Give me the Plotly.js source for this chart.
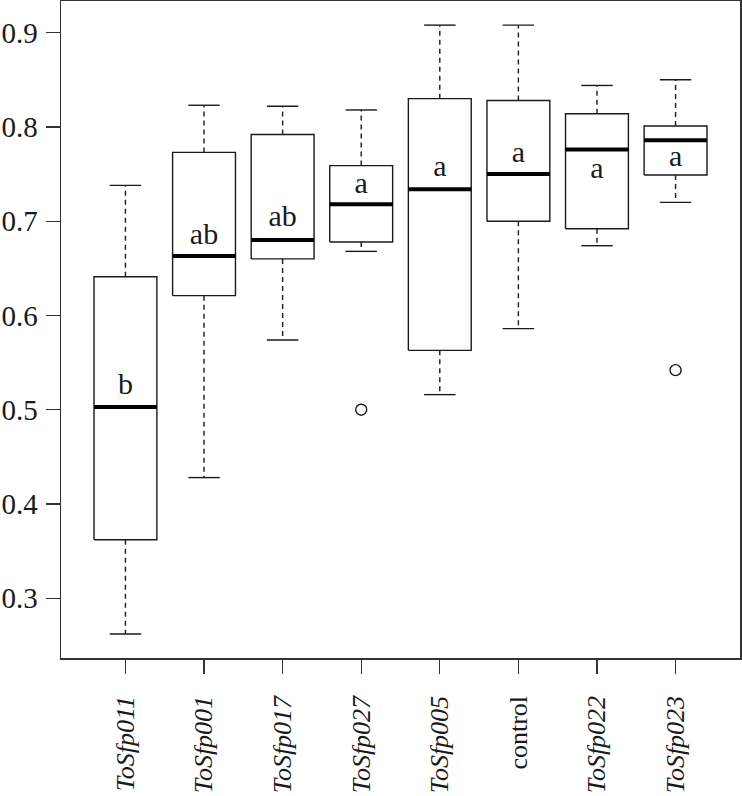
<!DOCTYPE html>
<html>
<head>
<meta charset="utf-8">
<script src="https://cdn.plot.ly/plotly-3.0.1.min.js"></script>
<style>html,body{margin:0;padding:0;background:#fff;}#chart{width:742px;height:796px;}</style>
</head>
<body>
<div id="chart"></div>
<script>
// ---- data ----
var groups   = ["ToSfp011","ToSfp001","ToSfp017","ToSfp027","ToSfp005","control","ToSfp022","ToSfp023"];
var italic   = [true, true, true, true, true, false, true, true];
var lowerW   = [0.262, 0.428, 0.574, 0.668, 0.516, 0.586, 0.674, 0.720];
var q1       = [0.362, 0.621, 0.660, 0.678, 0.563, 0.700, 0.692, 0.749];
var medians  = [0.503, 0.663, 0.680, 0.718, 0.734, 0.750, 0.776, 0.786];
var q3       = [0.641, 0.773, 0.792, 0.759, 0.830, 0.828, 0.814, 0.801];
var upperW   = [0.738, 0.823, 0.822, 0.818, 0.908, 0.908, 0.844, 0.850];
var outGroup = [4, 8];
var outVal   = [0.500, 0.542];
var letters  = ["b", "ab", "ab", "a", "a", "a", "a", "a"];
var letterY  = [0.525, 0.684, 0.703, 0.738, 0.756, 0.771, 0.754, 0.766];
var yTicks   = [0.3, 0.4, 0.5, 0.6, 0.7, 0.8, 0.9];

// ---- build traces ----
var HW = 0.4, CW = 0.2;
var pos = groups.map(function(_, i){ return i + 1; });
var bx = [], by = [], mx = [], my = [], wx = [], wy = [], cx = [], cy = [];
pos.forEach(function(p, i){
  bx.push(p-HW, p+HW, p+HW, p-HW, p-HW, null);
  by.push(q1[i], q1[i], q3[i], q3[i], q1[i], null);
  mx.push(p-HW, p+HW, null); my.push(medians[i], medians[i], null);
  wx.push(p, p, null, p, p, null);
  wy.push(q3[i], upperW[i], null, q1[i], lowerW[i], null);
  cx.push(p-CW, p+CW, null, p-CW, p+CW, null);
  cy.push(upperW[i], upperW[i], null, lowerW[i], lowerW[i], null);
});
var ink = '#1a1a1a';
var FONT = '"Liberation Serif", "Times New Roman", serif';
var traces = [
  {x: wx, y: wy, mode: 'lines', line: {color: ink, width: 1.4, dash: '5px,4px'}, hoverinfo: 'skip'},
  {x: cx, y: cy, mode: 'lines', line: {color: ink, width: 1.4}, hoverinfo: 'skip'},
  {x: bx, y: by, mode: 'lines', line: {color: ink, width: 1.4}, fill: 'none', hoverinfo: 'skip'},
  {x: mx, y: my, mode: 'lines', line: {color: '#000', width: 4}, hoverinfo: 'skip'},
  {x: outGroup, y: outVal, mode: 'markers', marker: {symbol: 'circle-open', size: 11, color: ink, line: {width: 1.4}}, hoverinfo: 'skip'},
  {x: pos, y: letterY, mode: 'text', text: letters, textposition: 'middle center',
   textfont: {family: FONT, size: 30, color: ink}, hoverinfo: 'skip'}
];

var tickText = groups.map(function(g, i){ return italic[i] ? '<i>' + g + '</i>' : g; });

var layout = {
  width: 742, height: 796,
  margin: {l: 61, r: 2, t: 1, b: 138},
  paper_bgcolor: '#fff', plot_bgcolor: '#fff',
  showlegend: false,
  font: {family: FONT, color: ink},
  xaxis: {
    range: [0.18, 8.82], tickmode: 'array', tickvals: pos, ticktext: tickText,
    tickangle: -90, ticks: 'outside', ticklen: 14, tickwidth: 1.2, tickcolor: '#333',
    showline: true, linecolor: '#333', linewidth: 1.5, mirror: true,
    showgrid: false, zeroline: false, ticklabelstandoff: 12,
    tickfont: {family: FONT, size: 26, color: ink}
  },
  yaxis: {
    range: [0.2366, 0.9336], tickmode: 'array', tickvals: yTicks,
    ticktext: yTicks.map(function(v){ return v.toFixed(1); }),
    ticks: 'outside', ticklen: 14, tickwidth: 1.2, tickcolor: '#333',
    showline: true, linecolor: '#333', linewidth: 1.5, mirror: true,
    showgrid: false, zeroline: false, ticklabelstandoff: 2,
    tickfont: {family: FONT, size: 29, color: ink}
  }
};

Plotly.newPlot('chart', traces, layout, {staticPlot: true, displayModeBar: false});
</script>
</body>
</html>
